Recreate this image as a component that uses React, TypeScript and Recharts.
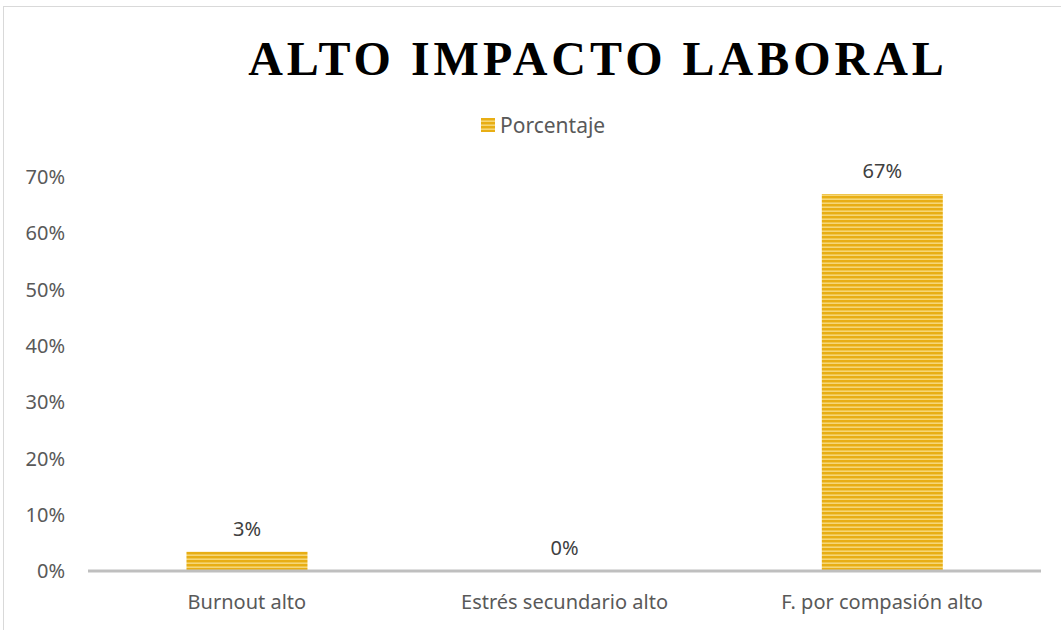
import React from "react";
import { BarChart, Bar, XAxis, YAxis, LabelList } from "recharts";

const categories = ["Burnout alto", "Estrés secundario alto", "F. por compasión alto"];
const porcentaje = [0.034, 0, 0.67];
const yTicks = [0, 0.1, 0.2, 0.3, 0.4, 0.5, 0.6, 0.7];
const title = "ALTO IMPACTO LABORAL";
const seriesName = "Porcentaje";

const data = categories.map((c, i) => ({ name: c, value: porcentaje[i] }));

const pct = (v: number) => `${Math.round(v * 100)}%`;

const FONT = "'Noto Sans', 'Open Sans', sans-serif";

const StripeDefs = ({ id }: { id: string }) => (
  <defs>
    <pattern id={id} patternUnits="userSpaceOnUse" width="8" height="4">
      <rect x="0" y="0" width="8" height="4" fill="#F6D675" />
      <rect x="0" y="0" width="8" height="2.4" fill="#E8AE14" />
    </pattern>
  </defs>
);

export default function App() {
  return (
    <div
      style={{
        position: "absolute",
        left: 0,
        top: 0,
        width: 1061,
        height: 630,
        background: "#fff",
        overflow: "hidden",
      }}
    >
      <div
        style={{
          position: "absolute",
          left: 3,
          top: 6,
          width: 1070,
          height: 640,
          border: "1px solid #d9d9d9",
          boxSizing: "border-box",
        }}
      />
      <svg
        width={1061}
        height={100}
        style={{ position: "absolute", left: 0, top: 0 }}
      >
        <text
          x={598}
          y={75}
          textAnchor="middle"
          fontFamily="'Liberation Serif', 'Times New Roman', serif"
          fontWeight="bold"
          fontSize={48}
          letterSpacing={4}
          fill="#000"
        >
          {title}
        </text>
      </svg>
      <div
        style={{
          position: "absolute",
          left: 481,
          top: 110,
          height: 30,
          display: "flex",
          alignItems: "center",
          fontFamily: FONT,
          fontSize: 21,
          color: "#595959",
          whiteSpace: "nowrap",
        }}
      >
        <svg width="14" height="14" style={{ marginRight: 5 }}>
          <StripeDefs id="legendStripes" />
          <rect x="0" y="0" width="14" height="14" fill="url(#legendStripes)" />
        </svg>
        <span>{seriesName}</span>
      </div>
      <div style={{ position: "absolute", left: 0, top: 0 }}>
        <BarChart
          width={1061}
          height={630}
          data={data}
          margin={{ top: 177, right: 20, left: 0, bottom: 0 }}
          barCategoryGap="31%"
        >
          <StripeDefs id="barStripes" />
          <YAxis
            width={88}
            domain={[0, 0.7]}
            ticks={yTicks}
            tickFormatter={pct}
            axisLine={false}
            tickLine={false}
            tickMargin={17}
            tick={{ fill: "#595959", fontSize: 20, fontFamily: FONT }}
          />
          <XAxis
            dataKey="name"
            height={59}
            axisLine={{ stroke: "#bfbfbf", strokeWidth: 3 }}
            tickLine={false}
            tickMargin={18}
            tick={{ fill: "#595959", fontSize: 20, fontFamily: FONT }}
          />
          <Bar
            dataKey="value"
            name={seriesName}
            fill="url(#barStripes)"
            minPointSize={0.01}
            isAnimationActive={false}
          >
            <LabelList
              dataKey="value"
              position="top"
              offset={16}
              formatter={(v: any) => pct(Number(v))}
              style={{ fill: "#404040", fontSize: 20, fontFamily: FONT }}
            />
          </Bar>
        </BarChart>
      </div>
    </div>
  );
}
